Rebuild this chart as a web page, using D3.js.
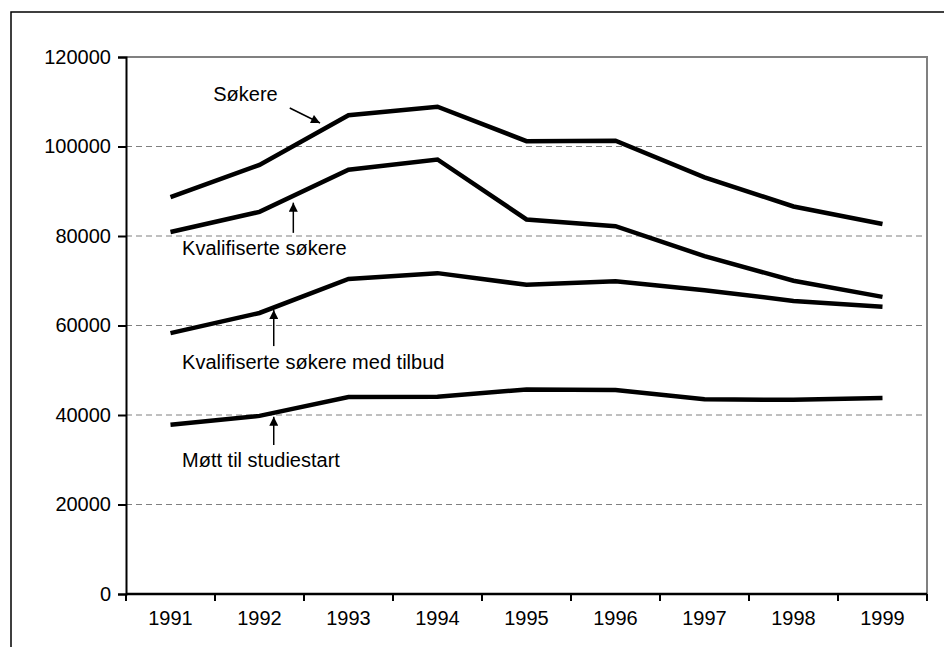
<!DOCTYPE html>
<html>
<head>
<meta charset="utf-8">
<script src="https://cdn.jsdelivr.net/npm/d3@7"></script>
<style>
  body { margin: 0; background: #fff; }
  text { font-family: Arial, "Liberation Sans", sans-serif; fill: #000; }
</style>
</head>
<body>
<div id="chart"></div>
<script>
const years = ["1991", "1992", "1993", "1994", "1995", "1996", "1997", "1998", "1999"];
const sokere = [88700, 95900, 107000, 108900, 101200, 101300, 93100, 86600, 82700];
const kvalifiserte = [80900, 85400, 94800, 97100, 83700, 82200, 75500, 70000, 66400];
const medTilbud = [58300, 62800, 70400, 71700, 69100, 69900, 67900, 65500, 64200];
const mott = [37800, 39800, 44000, 44100, 45700, 45600, 43500, 43400, 43800];
const yTicks = [0, 20000, 40000, 60000, 80000, 100000, 120000];

// annotation labels: text position and arrow (tail -> tip) in data units (year, value)
const labels = [
  {text: "Søkere", tx: 1991.48, ty: 110200, ax1: 1992.34, ay1: 108600, ax2: 1992.68, ay2: 105250},
  {text: "Kvalifiserte søkere", tx: 1991.13, ty: 75750, ax1: 1992.38, ay1: 80700, ax2: 1992.38, ay2: 87450},
  {text: "Kvalifiserte søkere med tilbud", tx: 1991.13, ty: 50300, ax1: 1992.16, ay1: 55400, ax2: 1992.16, ay2: 63450},
  {text: "Møtt til studiestart", tx: 1991.13, ty: 28400, ax1: 1992.16, ay1: 33300, ax2: 1992.16, ay2: 39600}
];

const W = 944, H = 647;
const margin = {top: 57, right: 17, bottom: 53, left: 126},
  width = W - margin.left - margin.right,
  height = H - margin.top - margin.bottom;

const svg = d3.select("#chart")
  .append("svg")
  .attr("width", W)
  .attr("height", H);

// outer frame (runs off the right and bottom edge)
svg.append("rect")
  .attr("x", 11).attr("y", 12)
  .attr("width", W + 20).attr("height", H + 20)
  .attr("fill", "none")
  .attr("stroke", "#000")
  .attr("stroke-width", 1.5);

svg.append("defs").append("marker")
  .attr("id", "arrow")
  .attr("viewBox", "0 0 10 10")
  .attr("refX", 10).attr("refY", 5)
  .attr("markerWidth", 10).attr("markerHeight", 9)
  .attr("markerUnits", "userSpaceOnUse")
  .attr("orient", "auto")
  .append("path")
  .attr("d", "M0,0 L10,5 L0,10 Z")
  .attr("fill", "#000");

const g = svg.append("g")
  .attr("transform", `translate(${margin.left},${margin.top})`);

const x = d3.scaleBand().domain(years).range([0, width]);
const xl = d3.scaleLinear().domain([1990.5, 1999.5]).range([0, width]);
const y = d3.scaleLinear().domain([0, 120000]).range([height, 0]);

// dashed grid
g.append("g")
  .selectAll("line")
  .data(yTicks.filter(d => d > 0 && d < 120000))
  .join("line")
  .attr("x1", 0).attr("x2", width)
  .attr("y1", d => y(d)).attr("y2", d => y(d))
  .attr("stroke", "#808080")
  .attr("stroke-width", 1.2)
  .attr("stroke-dasharray", "6,4");

// top and right frame of plot area
g.append("path")
  .attr("d", `M0,${y(120000)} H${width} V${height}`)
  .attr("fill", "none")
  .attr("stroke", "#808080")
  .attr("stroke-width", 2);

// y axis
const yAxis = g.append("g")
  .call(d3.axisLeft(y).tickValues(yTicks).tickSize(8).tickPadding(7).tickFormat(d3.format("d")));
yAxis.select(".domain").attr("stroke", "#000").attr("stroke-width", 2);
yAxis.selectAll(".tick line").attr("stroke", "#000").attr("stroke-width", 2);
yAxis.selectAll("text").attr("font-size", 20).attr("font-family", "Arial, 'Liberation Sans', sans-serif");

// x axis: ticks between categories
const xAxis = g.append("g")
  .attr("transform", `translate(0,${height})`)
  .call(d3.axisBottom(x).tickSize(0).tickPadding(17));
xAxis.select(".domain").remove();
xAxis.selectAll("text").attr("font-size", 20).attr("font-family", "Arial, 'Liberation Sans', sans-serif");
g.append("line")
  .attr("x1", 0).attr("x2", width)
  .attr("y1", height).attr("y2", height)
  .attr("stroke", "#000").attr("stroke-width", 2.5);
g.append("g")
  .selectAll("line")
  .data(d3.range(years.length + 1))
  .join("line")
  .attr("x1", i => i * x.step()).attr("x2", i => i * x.step())
  .attr("y1", height).attr("y2", height + 7)
  .attr("stroke", "#000").attr("stroke-width", 2);

// lines
const line = d3.line()
  .x((d, i) => x(years[i]) + x.bandwidth() / 2)
  .y(d => y(d));

[sokere, kvalifiserte, medTilbud, mott].forEach(s => {
  g.append("path")
    .datum(s)
    .attr("fill", "none")
    .attr("stroke", "#000")
    .attr("stroke-width", 4.5)
    .attr("stroke-linejoin", "miter")
    .attr("d", line);
});

// labels with arrows
labels.forEach(l => {
  g.append("text")
    .attr("x", xl(l.tx))
    .attr("y", y(l.ty))
    .attr("font-size", 20)
    .text(l.text);
  g.append("line")
    .attr("x1", xl(l.ax1)).attr("y1", y(l.ay1))
    .attr("x2", xl(l.ax2)).attr("y2", y(l.ay2))
    .attr("stroke", "#000")
    .attr("stroke-width", 1.5)
    .attr("marker-end", "url(#arrow)");
});
</script>
</body>
</html>
